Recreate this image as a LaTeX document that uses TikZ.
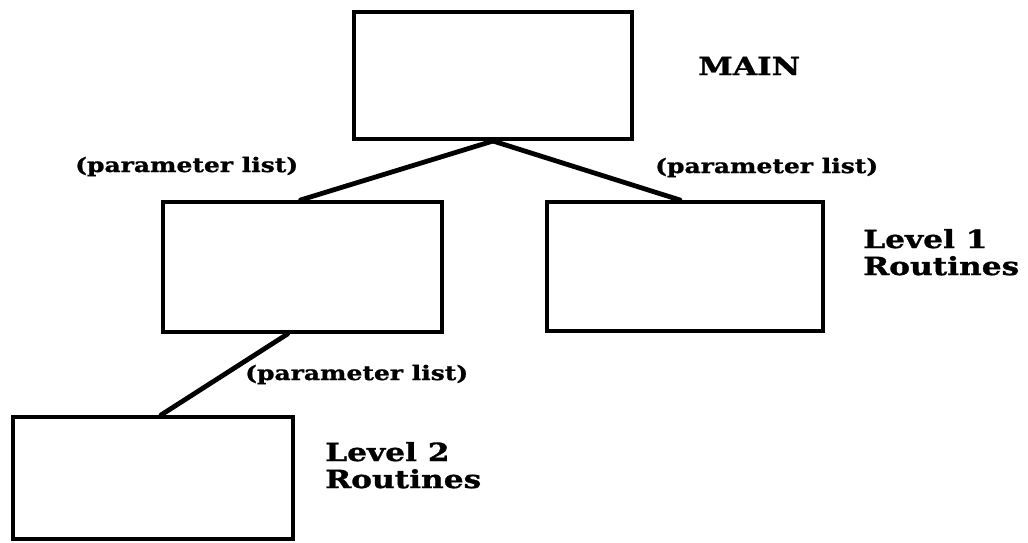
\documentclass[tikz,border=0pt]{standalone}
\usepackage{fontspec}
\newfontfamily\lblfont[FakeStretch=1.25, BoldFeatures={FakeBold=1.2}]{DejaVu Serif}
\tikzset{
  routine/.style={draw=black, line width=4pt, fill=white, rectangle, inner sep=0pt},
  link/.style={draw=black, line width=4.8pt, line cap=round},
  biglbl/.style={inner sep=0pt, anchor=base west, align=left, font=\lblfont\bfseries\fontsize{25}{27}\selectfont},
  parlbl/.style={inner sep=0pt, anchor=base west, font=\lblfont\bfseries\fontsize{20}{22}\selectfont},
}
\begin{document}
\begin{tikzpicture}[x=1pt, y=-1pt]
\useasboundingbox (0,0) rectangle (1028,542);
% boxes
\node[routine, minimum width=278pt, minimum height=127pt] (main) at (493,75.5) {};
\node[routine, minimum width=279pt, minimum height=130pt] (l1a) at (302.5,267) {};
\node[routine, minimum width=276pt, minimum height=129pt] (l1b) at (685,266.5) {};
\node[routine, minimum width=280pt, minimum height=122pt] (l2) at (153,478) {};
% connectors
\draw[link] (main.south) -- ([xshift=-2pt]l1a.north);
\draw[link] (main.south) -- ([xshift=-5pt]l1b.north);
\draw[link] ([xshift=-15pt]l1a.south) -- ([xshift=150pt]l2.north west);
% labels
\node[biglbl, font=\lblfont\bfseries\fontsize{25}{28}\selectfont] (tmain) at (698,75) {MAIN};
\node[parlbl] (p1) at (75,172) {(parameter list)};
\node[parlbl] (p2) at (655,173) {(parameter list)};
\node[parlbl] (p3) at (245,380) {(parameter list)};
\node[biglbl] (tl1) at (863,275) {Level 1\\Routines};
\node[biglbl] (tl2) at (325,488) {Level 2\\Routines};
\end{tikzpicture}
\end{document}
